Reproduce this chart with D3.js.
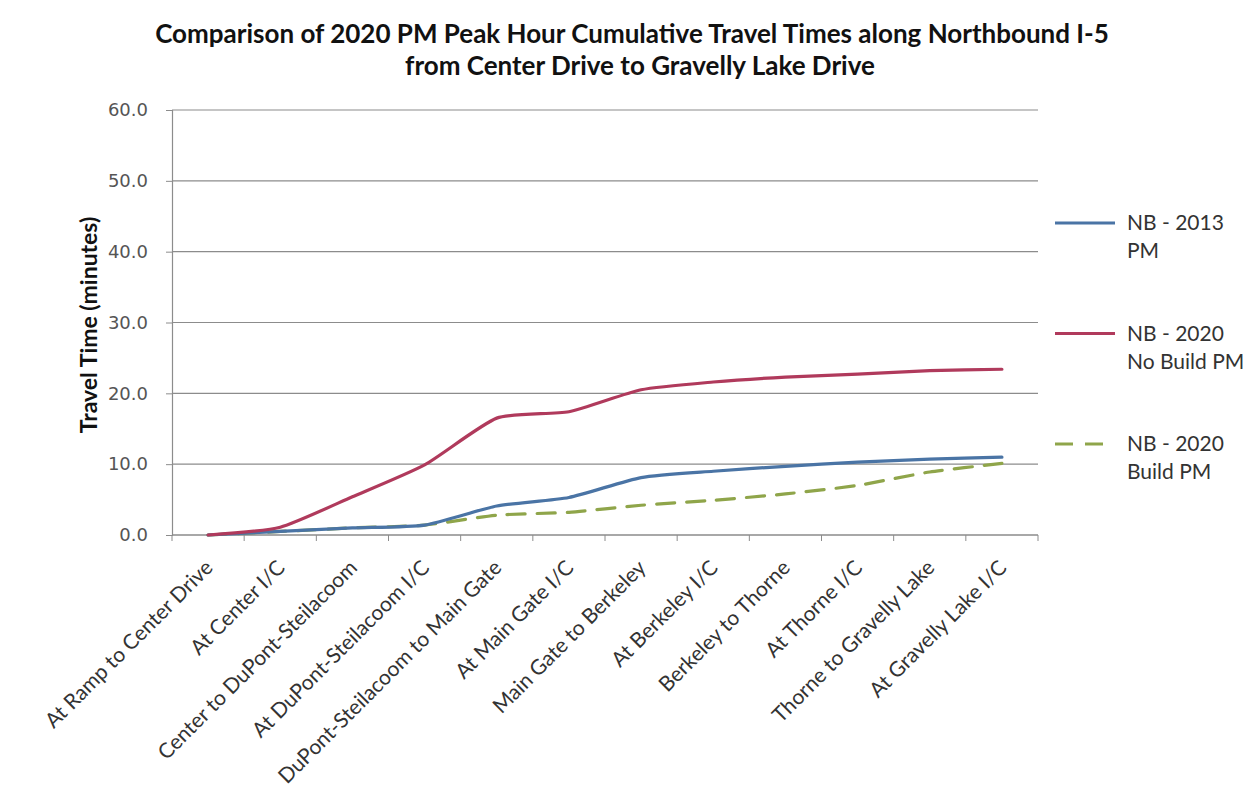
<!DOCTYPE html>
<html>
<head>
<meta charset="utf-8">
<script src="https://cdn.jsdelivr.net/npm/d3@7"></script>
<style>
  body { margin: 0; background: #fff; }
  svg { font-family: Lato, "Open Sans", sans-serif; }
</style>
</head>
<body>
<svg id="chart"></svg>
<script>
// data
const categories = [
    "At Ramp to Center Drive", "At Center I/C", "Center to DuPont-Steilacoom",
    "At DuPont-Steilacoom I/C", "DuPont-Steilacoom to Main Gate", "At Main Gate I/C",
    "Main Gate to Berkeley", "At Berkeley I/C", "Berkeley to Thorne",
    "At Thorne I/C", "Thorne to Gravelly Lake", "At Gravelly Lake I/C"
];
const nb2013 = [0, 0.5, 1.0, 1.4, 4.1, 5.3, 8.1, 9.0, 9.7, 10.3, 10.7, 11.0];
const nb2020NoBuild = [0, 1.1, 5.4, 9.9, 16.5, 17.4, 20.5, 21.6, 22.3, 22.7, 23.2, 23.4];
const nb2020Build = [0, 0.5, 1.0, 1.4, 2.8, 3.2, 4.2, 4.9, 5.8, 7.0, 8.9, 10.1];
const yTicks = [0, 10, 20, 30, 40, 50, 60];
const seriesNames = [["NB - 2013", "PM"], ["NB - 2020", "No Build PM"], ["NB - 2020", "Build PM"]];

const W = 1257, H = 797;
const margin = {top: 110, right: 219, bottom: 262, left: 172};
const width = W - margin.left - margin.right,
      height = H - margin.top - margin.bottom;

const svg = d3.select("#chart").attr("width", W).attr("height", H);

svg.append("rect").attr("width", W).attr("height", H).attr("fill", "#fff");

const g = svg.append("g")
    .attr("transform", `translate(${margin.left},${margin.top})`);

const x = d3.scaleBand()
    .domain(categories)
    .range([0, width])
    .padding(0);

const y = d3.scaleLinear()
    .domain([0, 60])
    .range([height, 0]);

// gridlines
g.append("g")
    .selectAll("line")
    .data(yTicks)
    .join("line")
        .attr("x1", 0)
        .attr("x2", width)
        .attr("y1", d => y(d))
        .attr("y2", d => y(d))
        .attr("stroke", "#8c8c8c")
        .attr("stroke-width", 1.2);

// y axis
const yAxis = g.append("g")
    .call(d3.axisLeft(y).tickValues(yTicks).tickFormat(d3.format(".1f")).tickSize(6).tickPadding(18));
yAxis.select(".domain").attr("stroke", "#8c8c8c").attr("stroke-width", 1.2);
yAxis.selectAll(".tick line").attr("stroke", "#8c8c8c");
yAxis.selectAll("text")
    .attr("fill", "#555")
    .style("font-family", "'DejaVu Sans', sans-serif")
    .style("font-size", "18px");

// x axis line + ticks at category boundaries
g.append("line")
    .attr("x1", 0).attr("x2", width)
    .attr("y1", height).attr("y2", height)
    .attr("stroke", "#8c8c8c").attr("stroke-width", 1.2);

const bounds = categories.map(c => x(c)).concat([width]);
g.append("g")
    .selectAll("line")
    .data(bounds)
    .join("line")
        .attr("x1", d => d).attr("x2", d => d)
        .attr("y1", height).attr("y2", height + 6)
        .attr("stroke", "#8c8c8c");

g.append("g")
    .selectAll("text")
    .data(categories)
    .join("text")
        .attr("transform", d => `translate(${x(d) + x.bandwidth() / 2 + 6},${height + 34}) rotate(-45)`)
        .attr("text-anchor", "end")
        .attr("fill", "#333")
        .style("font-size", "21px")
        .text(d => d);

// lines (slightly smoothed, like the spreadsheet original)
const line = d3.line()
    .x((d, i) => x(categories[i]) + x.bandwidth() / 2)
    .y(d => y(d))
    .curve(d3.curveCardinal.tension(0.4));

const series = [
    {values: nb2013, color: "#4a74a5", dash: null},
    {values: nb2020NoBuild, color: "#b03a5c", dash: null},
    {values: nb2020Build, color: "#8fa54a", dash: "18,12"}
];

g.append("g")
    .selectAll("path")
    .data([series[2], series[0], series[1]])
    .join("path")
        .attr("d", d => line(d.values))
        .attr("fill", "none")
        .attr("stroke", d => d.color)
        .attr("stroke-width", 3.2)
        .attr("stroke-dasharray", d => d.dash)
        .attr("stroke-linecap", "round");

// legend
const legend = svg.append("g").attr("transform", "translate(1055,223)");
const item = legend.selectAll("g")
    .data(series)
    .join("g")
        .attr("transform", (d, i) => `translate(0,${i * 110.5})`);

item.append("line")
    .attr("x1", 0).attr("x2", 60)
    .attr("stroke", d => d.color)
    .attr("stroke-width", 3.2)
    .attr("stroke-dasharray", d => d.dash);

item.each(function(d, i) {
    const t = d3.select(this).append("text")
        .attr("x", 72)
        .attr("y", 7)
        .attr("fill", "#333")
        .style("font-size", "21px");
    t.append("tspan").attr("x", 72).text(seriesNames[i][0]);
    t.append("tspan").attr("x", 72).attr("dy", 28).text(seriesNames[i][1]);
});

// titles
svg.append("text")
    .attr("x", 632)
    .attr("y", 43)
    .attr("text-anchor", "middle")
    .style("font-size", "26px")
    .style("font-weight", "bold")
    .attr("fill", "#111")
    .text("Comparison of 2020 PM Peak Hour Cumulative Travel Times along Northbound I-5");

svg.append("text")
    .attr("x", 640)
    .attr("y", 75)
    .attr("text-anchor", "middle")
    .style("font-size", "26px")
    .style("font-weight", "bold")
    .attr("fill", "#111")
    .text("from Center Drive to Gravelly Lake Drive");

svg.append("text")
    .attr("transform", "translate(97,325) rotate(-90)")
    .attr("text-anchor", "middle")
    .style("font-size", "23px")
    .style("font-weight", "bold")
    .attr("fill", "#111")
    .text("Travel Time (minutes)");
</script>
</body>
</html>
